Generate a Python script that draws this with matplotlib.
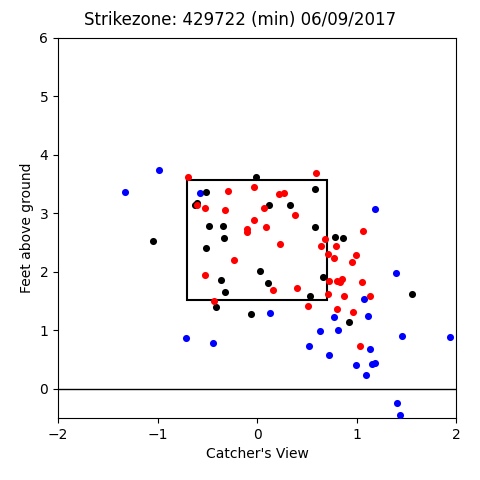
import matplotlib
matplotlib.use('Agg')
import matplotlib.pyplot as plt
from matplotlib.patches import Rectangle

# called strikes (red), balls (blue), other / in play (black)
red_x = [1.07, 0.68, 0.64, 0.79, 0.71, 0.99, 0.77, 0.95, 0.72, 0.80, 0.83, 0.85, 1.06, 0.40, 0.71,
         0.87, 1.14, 0.51, 0.80, 0.96, 1.04, -0.69, -0.29, -0.60, -0.52, -0.32, -0.52, -0.43,
         0.59, -0.03, 0.22, 0.27, 0.07, 0.38, -0.03, -0.10, -0.10, 0.09, 0.23, -0.23, 0.16]
red_y = [2.70, 2.56, 2.45, 2.45, 2.30, 2.29, 2.23, 2.17, 1.85, 1.85, 1.82, 1.87, 1.83, 1.73, 1.63,
         1.59, 1.59, 1.42, 1.36, 1.31, 0.73, 3.63, 3.39, 3.15, 3.10, 3.05, 1.95, 1.50,
         3.69, 3.45, 3.33, 3.35, 3.10, 2.98, 2.88, 2.73, 2.69, 2.77, 2.47, 2.20, 1.69]

blue_x = [-0.99, -1.33, -0.57, -0.71, -0.44, 0.13, 1.40, 1.08, 0.77, 1.12, 0.63, 0.81, 1.46, 1.94,
          0.52, 1.14, 0.72, 0.99, 1.16, 1.19, 1.10, 1.41, 1.44, 1.19]
blue_y = [3.74, 3.37, 3.35, 0.87, 0.79, 1.29, 1.98, 1.54, 1.23, 1.24, 0.99, 1.01, 0.91, 0.88,
          0.74, 0.68, 0.58, 0.41, 0.43, 0.45, 0.23, -0.25, -0.44, 3.08]

black_x = [0.58, 0.78, 0.86, 0.66, 0.53, 1.56, 0.92, -0.51, -0.60, -0.62, -0.48, -0.34, -0.33,
           -0.51, -1.05, -0.36, -0.32, -0.41, -0.01, 0.58, 0.12, 0.33, 0.03, 0.11, -0.06]
black_y = [2.77, 2.60, 2.58, 1.92, 1.58, 1.63, 1.15, 3.36, 3.18, 3.14, 2.78, 2.78, 2.58,
           2.41, 2.53, 1.86, 1.65, 1.40, 3.63, 3.42, 3.15, 3.15, 2.02, 1.81, 1.28]

# strike zone
sz_left, sz_right = -0.708, 0.708
sz_bot, sz_top = 1.52, 3.57

fig = plt.figure(figsize=(4.8, 4.8), dpi=100)
ax = fig.add_axes([0.121, 0.129, 0.829, 0.792])

ax.scatter(blue_x, blue_y, c='blue', s=26, linewidths=0, zorder=3)
ax.scatter(black_x, black_y, c='black', s=26, linewidths=0, zorder=3)
ax.scatter(red_x, red_y, c='red', s=26, linewidths=0, zorder=3)

ax.add_patch(Rectangle((sz_left, sz_bot), sz_right - sz_left, sz_top - sz_bot,
                       fill=False, edgecolor='black', linewidth=1.5, zorder=2))
ax.axhline(0, color='black', linewidth=1)

ax.set_xlim(-2, 2)
ax.set_ylim(-0.5, 6)
ax.set_xticks([-2, -1, 0, 1, 2])
ax.set_yticks([0, 1, 2, 3, 4, 5, 6])
ax.set_xlabel("Catcher's View")
ax.set_ylabel('Feet above ground')
fig.suptitle('Strikezone: 429722 (min) 06/09/2017', fontsize=12, y=0.978)

fig.savefig('out.png', dpi=100)
